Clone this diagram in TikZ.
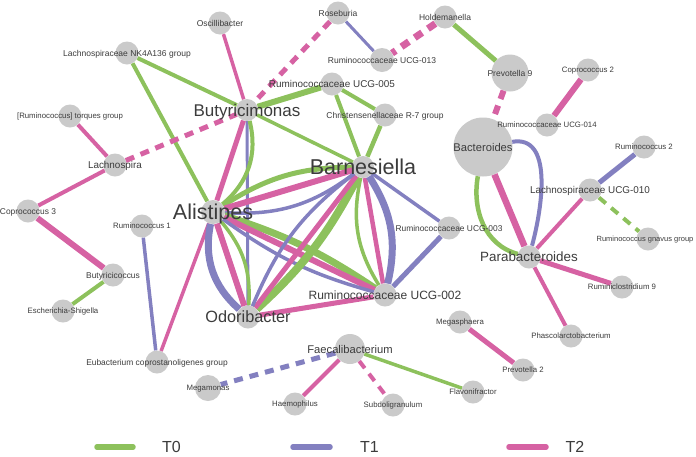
\documentclass[tikz,border=0pt]{standalone}
\usepackage{fontspec}
\setmainfont{Liberation Sans}
\definecolor{cg}{RGB}{141,193,92}
\definecolor{cb}{RGB}{131,128,192}
\definecolor{cp}{RGB}{214,98,163}
\definecolor{ngray}{RGB}{202,202,202}
\definecolor{labcol}{RGB}{60,60,60}
\tikzset{
  bug/.style={circle, fill=ngray, draw=none, minimum size=#1, inner sep=0pt},
  bug/.default=23,
  lbl/.style={font=\fontsize{#1}{#1}\selectfont, text=labcol, inner sep=0pt, anchor=base, yshift=-0.36*#1},
  eG/.style={draw=cg, line width=#1},
  eB/.style={draw=cb, line width=#1},
  eP/.style={draw=cp, line width=#1},
  dsh/.style={dash pattern=on 9pt off 7pt}
}
\begin{document}
\begin{tikzpicture}[x=1pt,y=1pt]
\fill[white] (0,0) rectangle (696,-456);
\useasboundingbox (0,0) rectangle (696,-456);
% nodes
\node[bug] (osc) at (220,-23) {};
\node[bug] (nk) at (127,-53) {};
\node[bug] (tor) at (70,-116) {};
\node[bug] (lsp) at (115,-165) {};
\node[bug=22] (but) at (247,-110) {};
\node[bug] (ros) at (338,-13) {};
\node[bug=24] (u13) at (382,-60) {};
\node[bug] (hol) at (445,-17) {};
\node[bug] (u05) at (332,-84) {};
\node[bug] (chr) at (385,-115) {};
\node[bug=22] (bar) at (363,-167) {};
\node[bug=37] (pr9) at (510,-73) {};
\node[bug] (co2) at (588,-70) {};
\node[bug] (u14) at (547,-125) {};
\node[bug=59] (bac) at (483,-147) {};
\node[bug] (ru2) at (644,-147) {};
\node[bug] (l10) at (590,-190) {};
\node[bug] (gna) at (648,-239) {};
\node[bug] (par) at (529,-257) {};
\node[bug] (rc9) at (622,-287) {};
\node[bug] (pha) at (571,-336) {};
\node[bug] (u03) at (449,-228) {};
\node[bug] (u02) at (385,-295) {};
\node[bug] (odo) at (248,-317) {};
\node[bug=24] (ali) at (213,-212) {};
\node[bug] (co3) at (28,-211) {};
\node[bug] (ru1) at (142,-226) {};
\node[bug] (byc) at (113,-275) {};
\node[bug] (esc) at (63,-311) {};
\node[bug] (eub) at (157,-362) {};
\node[bug=26] (meg) at (208,-388) {};
\node[bug=30] (fae) at (350,-349) {};
\node[bug] (hae) at (295,-404) {};
\node[bug] (sub) at (393,-405) {};
\node[bug] (fla) at (473,-392) {};
\node[bug] (pr2) at (523,-370) {};
\node[bug] (msp) at (460,-322) {};
% edges
\draw[eP=3.5] (osc) -- (but);
\draw[eG=4] (nk) -- (but);
\draw[eG=4] (nk) -- (ali);
\draw[eP=4] (tor) -- (lsp);
\draw[eP=5,dsh] (lsp) -- (but);
\draw[eP=4] (lsp) -- (co3);
\draw[eP=6] (co3) -- (byc);
\draw[eG=4] (byc) -- (esc);
\draw[eB=3.5] (ru1) -- (eub);
\draw[eP=3.5] (eub) -- (ali);
\draw[eP=5,dsh] (ros) -- (but);
\draw[eB=3] (ros) -- (u13);
\draw[eP=7,dsh] (hol) -- (u13);
\draw[eG=5] (hol) -- (pr9);
\draw[eP=6,dsh] (pr9) -- (bac);
\draw[eP=6] (co2) -- (u14);
\draw[eB=5] (ru2) -- (l10);
\draw[eG=4,dsh] (l10) -- (gna);
\draw[eP=4] (l10) -- (par);
\draw[eP=5] (par) -- (rc9);
\draw[eP=4] (par) -- (pha);
\draw[eP=6.5] (bac) -- (par);
\draw[eG=4.5] (bac) to[out=260,in=165] (par);
\draw[eB=4] (bac) to[out=10,in=75] (par);
\draw[eP=5] (msp) -- (pr2);
\draw[eG=3.5] (fae) -- (fla);
\draw[eB=5,dsh] (fae) -- (meg);
\draw[eP=4] (fae) -- (hae);
\draw[eP=4,dsh] (fae) -- (sub);
\draw[eB=3.5] (u03) -- (bar);
\draw[eB=5] (u03) -- (u02);
\draw[eG=6] (but) -- (u05);
\draw[eG=3.5] (but) -- (bar);
\draw[eG=4] (u05) -- (chr);
\draw[eG=4] (u05) -- (bar);
\draw[eG=4.5] (chr) -- (bar);
\draw[eB=3] (but) -- (odo);
\draw[eP=5] (but) -- (ali);
\draw[eG=4] (but) to[bend left=32] (ali);
\draw[eG=5] (ali) to[bend left=16] (bar);
\draw[eP=6] (ali) -- (bar);
\draw[eB=3.5] (ali) to[bend right=20] (bar);
\draw[eB=7] (ali) to[bend right=30] (odo);
\draw[eP=6] (ali) -- (odo);
\draw[eG=3.5] (ali) to[bend left=22] (odo);
\draw[eG=7] (ali) to[bend left=8] (u02);
\draw[eP=6] (ali) -- (u02);
\draw[eB=3.5] (ali) to[bend right=10] (u02);
\draw[eG=8] (bar) to[bend left=10] (odo);
\draw[eP=5] (bar) -- (odo);
\draw[eB=3.5] (bar) to[bend right=15] (odo);
\draw[eG=3.5] (bar) to[bend right=22] (u02);
\draw[eP=4.5] (bar) -- (u02);
\draw[eB=7] (bar) to[bend left=23] (u02);
\draw[eP=5] (odo) -- (u02);
% labels
\node[lbl=8.5] (osc-t) at (osc) {Oscillibacter};
\node[lbl=8.5] (nk-t) at (nk) {Lachnospiraceae NK4A136 group};
\node[lbl=7.8] (tor-t) at (tor) {[Ruminococcus] torques group};
\node[lbl=9.9] (lsp-t) at (lsp) {Lachnospira};
\node[lbl=17] (but-t) at (but) {Butyricimonas};
\node[lbl=8.5] (ros-t) at (ros) {Roseburia};
\node[lbl=8.5] (u13-t) at (u13) {Ruminococcaceae UCG-013};
\node[lbl=8.5] (hol-t) at (hol) {Holdemanella};
\node[lbl=9.9] (u05-t) at (u05) {Ruminococcaceae UCG-005};
\node[lbl=8.5] (chr-t) at (chr) {Christensenellaceae R-7 group};
\node[lbl=21.5] (bar-t) at (bar) {Barnesiella};
\node[lbl=8.5] (pr9-t) at (pr9) {Prevotella 9};
\node[lbl=7.8] (co2-t) at (co2) {Coprococcus 2};
\node[lbl=7.8] (u14-t) at (u14) {Ruminococcaceae UCG-014};
\node[lbl=11.2] (bac-t) at (bac) {Bacteroides};
\node[lbl=7.8] (ru2-t) at (ru2) {Ruminococcus 2};
\node[lbl=9.9] (l10-t) at (l10) {Lachnospiraceae UCG-010};
\node[lbl=7.5] (gna-t) at (645,-239) {Ruminococcus gnavus group};
\node[lbl=13.4] (par-t) at (par) {Parabacteroides};
\node[lbl=7.8] (rc9-t) at (rc9) {Ruminiclostridium 9};
\node[lbl=7.8] (pha-t) at (pha) {Phascolarctobacterium};
\node[lbl=8.4] (u03-t) at (u03) {Ruminococcaceae UCG-003};
\node[lbl=12] (u02-t) at (u02) {Ruminococcaceae UCG-002};
\node[lbl=16.3] (odo-t) at (odo) {Odoribacter};
\node[lbl=21.5] (ali-t) at (ali) {Alistipes};
\node[lbl=8.4] (co3-t) at (co3) {Coprococcus 3};
\node[lbl=7.8] (ru1-t) at (ru1) {Ruminococcus 1};
\node[lbl=8.4] (byc-t) at (byc) {Butyricicoccus};
\node[lbl=7.8] (esc-t) at (esc) {Escherichia-Shigella};
\node[lbl=8.4] (eub-t) at (eub) {Eubacterium coprostanoligenes group};
\node[lbl=7.8] (meg-t) at (meg) {Megamonas};
\node[lbl=11.2] (fae-t) at (fae) {Faecalibacterium};
\node[lbl=7.8] (hae-t) at (hae) {Haemophilus};
\node[lbl=7.8] (sub-t) at (sub) {Subdoligranulum};
\node[lbl=7.8] (fla-t) at (fla) {Flavonifractor};
\node[lbl=7.8] (pr2-t) at (pr2) {Prevotella 2};
\node[lbl=7.8] (msp-t) at (msp) {Megasphaera};
% legend
\coordinate (lg0a) at (97,-447); \coordinate (lg0b) at (133,-447);
\coordinate (lg1a) at (293,-447); \coordinate (lg1b) at (330,-447);
\coordinate (lg2a) at (509,-447); \coordinate (lg2b) at (546,-447);
\draw[eG=5.5, line cap=round] (lg0a) -- (lg0b);
\draw[eB=5.5, line cap=round] (lg1a) -- (lg1b);
\draw[eP=5.5, line cap=round] (lg2a) -- (lg2b);
\node[lbl=16] (t0) at (171.5,-447) {T0};
\node[lbl=16] (t1) at (369.5,-447) {T1};
\node[lbl=16] (t2) at (575,-447) {T2};
\end{tikzpicture}
\end{document}
